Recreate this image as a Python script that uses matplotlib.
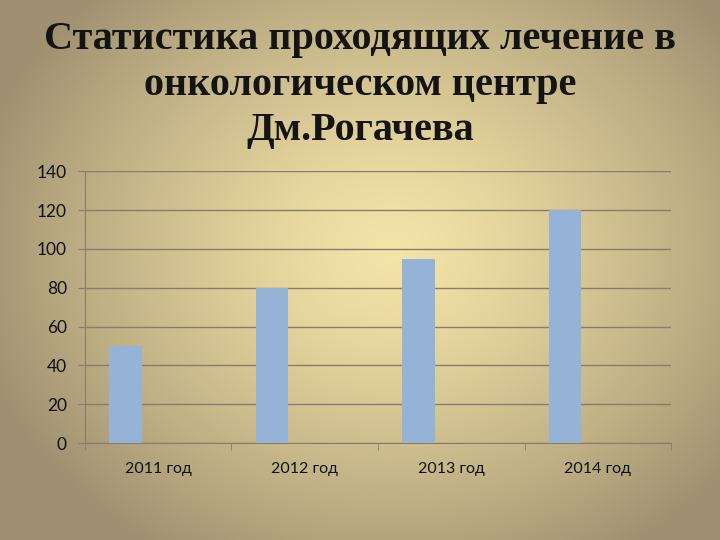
import numpy as np
import matplotlib
matplotlib.use("Agg")
from matplotlib import pyplot as plt

# data
years = ["2011 год", "2012 год", "2013 год", "2014 год"]
patients = [50, 80, 95, 120]
y_ticks = [0, 20, 40, 60, 80, 100, 120, 140]
title_lines = ["Статистика проходящих лечение в", "онкологическом центре", "Дм.Рогачева"]

fig = plt.figure(figsize=(7.2, 5.4), dpi=100)

# radial background: light centre, grey-brown edges
bg = fig.add_axes([0, 0, 1, 1], zorder=0)
yy, xx = np.mgrid[0:540, 0:720]
r = np.sqrt(((xx - 390) / 430.0) ** 2 + ((yy - 250) / 360.0) ** 2)
r = np.clip(r, 0, 1)
inner = np.array([245, 228, 168]) / 255.0
outer = np.array([158, 144, 112]) / 255.0
img = inner[None, None, :] * (1 - r[..., None] ** 1.3) + outer[None, None, :] * r[..., None] ** 1.3
bg.imshow(img, aspect="auto", extent=[0, 1, 0, 1], origin="upper")
bg.axis("off")

for line, ypos in zip(title_lines, [0.926, 0.842, 0.758]):
    fig.text(0.5, ypos, line, ha="center", va="center", fontsize=29, fontweight="bold",
             family="Liberation Serif", color="#141414", zorder=5)

ax = fig.add_axes([0.118, 0.1796, 0.814, 0.5034], zorder=2)
ax.patch.set_alpha(0)

x = np.arange(len(years))
w = 1 / 4.5
ax.bar(x - w, patients, width=w, color="#95B3D7", zorder=3)

ax.set_xlim(-0.5, len(years) - 0.5)
ax.set_ylim(0, 140)
ax.set_yticks(y_ticks)
ax.yaxis.grid(True, color="#8A7D68", linewidth=1.0)
ax.set_axisbelow(True)

ax.set_xticks(x)
ax.set_xticklabels(years, family="Lato", fontsize=11.5, color="#111111")
ax.set_xticks(np.arange(len(years) + 1) - 0.5, minor=True)
ax.tick_params(axis="x", which="major", length=0, pad=14)
ax.tick_params(axis="x", which="minor", length=5, color="#8A7D68")
ax.tick_params(axis="y", length=5, color="#8A7D68", labelsize=12.5, pad=8)
for lab in ax.get_yticklabels():
    lab.set_family("Lato")
    lab.set_color("#111111")

for s in ["top", "right"]:
    ax.spines[s].set_visible(False)
ax.spines["left"].set_color("#8A7D68")
ax.spines["bottom"].set_color("#8A7D68")

plt.savefig("out.png", dpi=100)
